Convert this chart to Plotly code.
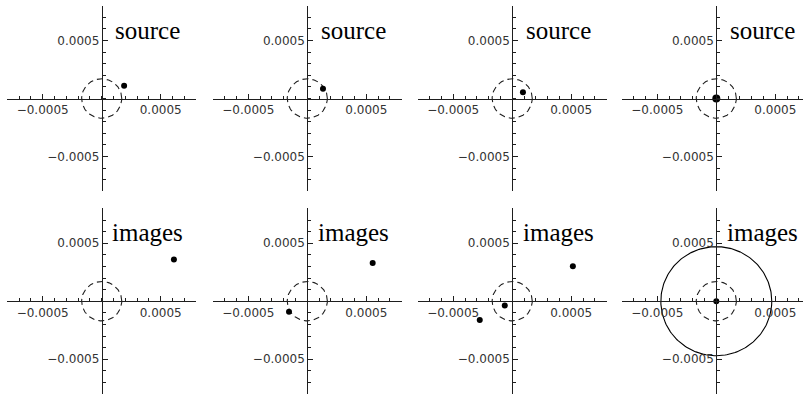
import math
import plotly.graph_objects as go

# ---------------- data ----------------
panel_labels_top = ["source", "source", "source", "source"]
panel_labels_bottom = ["images", "images", "images", "images"]

# source positions (x, y) per column
source_x = [0.000190, 0.000133, 0.000091, 0.0]
source_y = [0.000110, 0.000084, 0.000054, 0.0]
source_size = [6, 6, 6, 8]

# image positions per column
image_x = [[0.000612], [0.000554, -0.000155], [0.000514, -0.000063, -0.000275], [0.0]]
image_y = [[0.000360], [0.000330, -0.000090], [0.000302, -0.000038, -0.000161], [0.0]]
image_size = 6

# dashed (critical) circle radius in every panel, solid ring in last image panel
dashed_radius = 0.00017
ring_radius = [None, None, None, 0.00047]

tick_major = [-0.0005, 0.0005]
tick_major_text = ["\u22120.0005", "0.0005"]
axis_limit = 0.0008
minor_step = 0.0001

# ---------------- layout geometry (pixels) ----------------
W, H = 803, 396
col_center = [101.7, 307.3, 512.2, 716.3]  # y-axis pixel x
row_center = [98.5, 301.2]                  # x-axis pixel y
px_per_unit_x = 118000.0
px_per_unit_y = 116000.0

fig = go.Figure()
axis_col = "#1e1e1e"
text_col = "#333333"

theta = [2 * math.pi * k / 200 for k in range(201)]

idx = 0
for r in range(2):
    for c in range(4):
        idx += 1
        xa = "xaxis" if idx == 1 else f"xaxis{idx}"
        ya = "yaxis" if idx == 1 else f"yaxis{idx}"
        xr = "x" if idx == 1 else f"x{idx}"
        yr = "y" if idx == 1 else f"y{idx}"

        cx = col_center[c]
        left_px = cx - axis_limit * px_per_unit_x
        right_px = cx + axis_limit * px_per_unit_x
        xmax = axis_limit
        if right_px > W:
            right_px = W
            xmax = (W - cx) / px_per_unit_x
        cy = row_center[r]
        top_px = cy - axis_limit * px_per_unit_y
        bot_px = cy + axis_limit * px_per_unit_y

        common = dict(
            showgrid=False, zeroline=False, showline=True, linecolor=axis_col, linewidth=1,
            ticks="inside", ticklen=5, tickwidth=1, tickcolor=axis_col,
            tickmode="array", tickvals=tick_major, ticktext=tick_major_text,
            tickfont=dict(family="DejaVu Sans", size=12, color=text_col),
            minor=dict(ticks="inside", ticklen=3, tickwidth=1, tickcolor=axis_col,
                       dtick=minor_step, tick0=0, showgrid=False),
            fixedrange=True,
        )
        fig.layout[xa] = dict(
            common,
            domain=[left_px / W, right_px / W],
            range=[-axis_limit, xmax],
            anchor="free",
            position=1 - cy / H,
            side="bottom",
        )
        fig.layout[ya] = dict(
            common,
            domain=[1 - bot_px / H, 1 - top_px / H],
            range=[-axis_limit, axis_limit],
            anchor="free",
            position=cx / W,
            side="left",
        )

        # dashed circle
        fig.add_trace(go.Scatter(
            x=[dashed_radius * math.cos(t) for t in theta],
            y=[dashed_radius * math.sin(t) for t in theta],
            mode="lines", line=dict(color="#1e1e1e", width=1.1, dash="6px,4px"),
            xaxis=xr, yaxis=yr, hoverinfo="skip", showlegend=False,
        ))
        if r == 0:
            fig.add_trace(go.Scatter(
                x=[source_x[c]], y=[source_y[c]], mode="markers",
                marker=dict(color="black", size=source_size[c]),
                xaxis=xr, yaxis=yr, showlegend=False,
            ))
            label = panel_labels_top[c]
        else:
            if ring_radius[c] is not None:
                fig.add_trace(go.Scatter(
                    x=[ring_radius[c] * math.cos(t) for t in theta],
                    y=[ring_radius[c] * math.sin(t) for t in theta],
                    mode="lines", line=dict(color="black", width=1.1),
                    xaxis=xr, yaxis=yr, hoverinfo="skip", showlegend=False,
                ))
            fig.add_trace(go.Scatter(
                x=image_x[c], y=image_y[c], mode="markers",
                marker=dict(color="black", size=image_size),
                xaxis=xr, yaxis=yr, showlegend=False,
            ))
            label = panel_labels_bottom[c]

        fig.add_annotation(
            x=0.00039, y=0.00059, xref=xr, yref=yr, text=label, showarrow=False,
            xanchor="center", yanchor="middle",
            font=dict(family="Liberation Serif", size=25, color="black"),
        )

fig.update_layout(
    width=W, height=H, margin=dict(l=0, r=0, t=0, b=0),
    paper_bgcolor="white", plot_bgcolor="rgba(0,0,0,0)",
    showlegend=False,
)
fig.write_html(
    "out.html",
    config={"displayModeBar": False},
    post_script="document.body.style.margin='0px';document.body.style.overflow='hidden';",
)
